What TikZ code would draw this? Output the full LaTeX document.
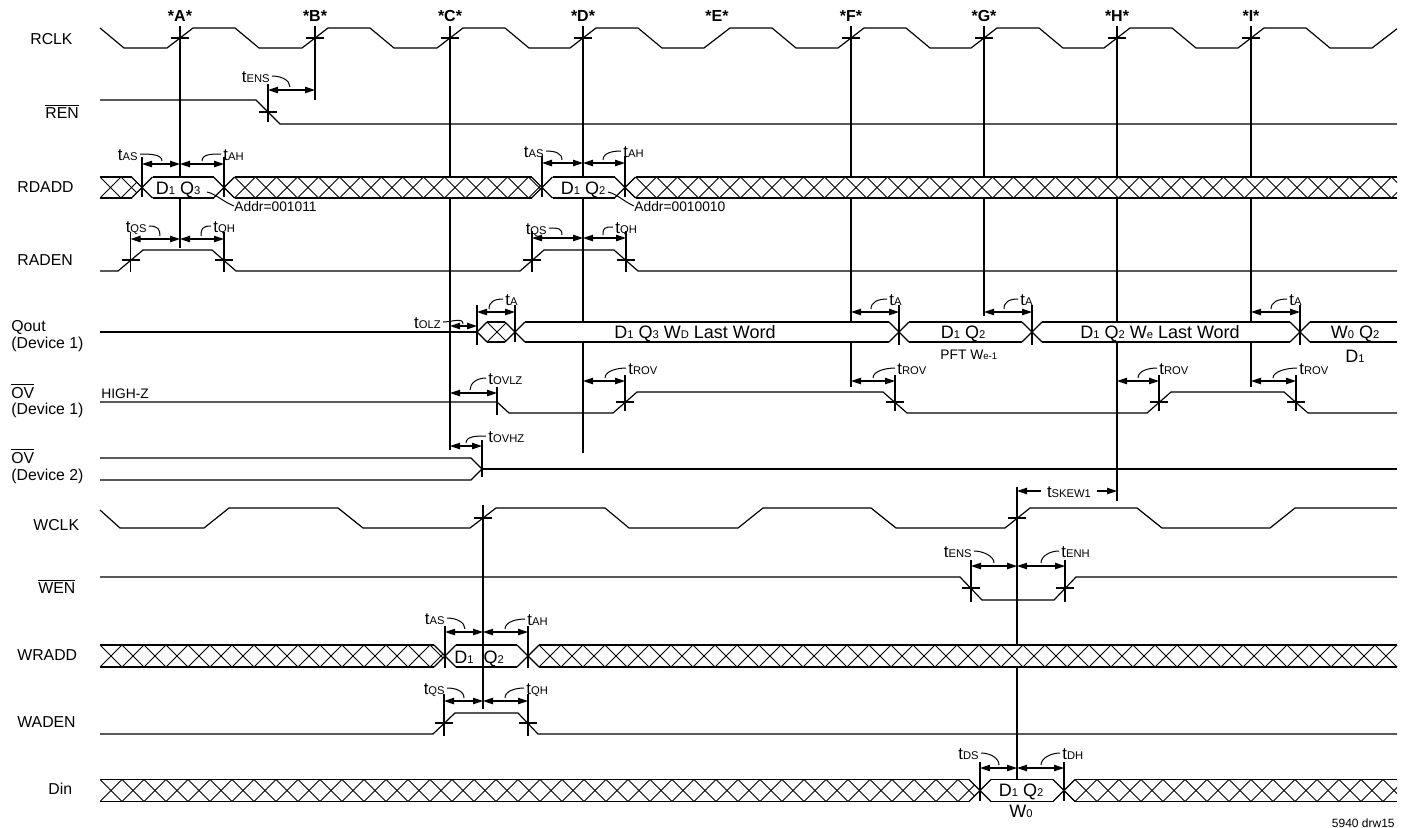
\documentclass[tikz,border=0pt]{standalone}
\usepackage{fontspec}
\setmainfont{Liberation Sans}
\usetikzlibrary{arrows.meta}
\newcommand\tsb[1]{{\fontsize{5.6}{6}\selectfont #1}}
\newcommand\tlb[1]{t\tsb{#1}}
\newcommand\dsb[1]{{\fontsize{5.6}{6}\selectfont #1}}
\newcommand\ovl[1]{$\overline{\hbox{#1}}$}
\newcommand\busedges[6]{%
  \draw[sig] (#1+#5,#3-#4) -- (#2-#6,#3-#4);
  \draw[sig] (#1+#5,#3+#4) -- (#2-#6,#3+#4);
  \ifdim#5pt>0pt \draw[sig] (#1+#5,#3-#4) -- (#1,#3) -- (#1+#5,#3+#4);\fi
  \ifdim#6pt>0pt \draw[sig] (#2-#6,#3-#4) -- (#2,#3) -- (#2-#6,#3+#4);\fi}
\newcommand\dbox[6]{%
  \fill[white] (#1,#3) -- (#1+#5,#3-#4) -- (#2-#6,#3-#4) -- (#2,#3) -- (#2-#6,#3+#4) -- (#1+#5,#3+#4) -- cycle;
  \busedges{#1}{#2}{#3}{#4}{#5}{#6}}
\newcommand\hbus[6]{%
  \begin{scope}
    \clip (#1,#3) -- (#1+#5,#3-#4) -- (#2-#6,#3-#4) -- (#2,#3) -- (#2-#6,#3+#4) -- (#1+#5,#3+#4) -- cycle;
    \fill[white] (#1,#3-#4) rectangle (#2,#3+#4);
    \pgfmathsetmacro\hzp{2*#4}%
    \pgfmathsetmacro\hzx{#1-#5}%
    \pgfmathtruncatemacro\hzn{(#2-#1)/\hzp+2}%
    \foreach \k in {0,...,\hzn}{%
      \draw[hat] (\hzx+\k*\hzp,#3-#4) -- (\hzx+\k*\hzp+\hzp,#3+#4);
      \draw[hat] (\hzx+\k*\hzp,#3+#4) -- (\hzx+\k*\hzp+\hzp,#3-#4);}
  \end{scope}
  \busedges{#1}{#2}{#3}{#4}{#5}{#6}}
\newcommand\tar[3]{\draw[tarr] (#1,#3) -- (#2,#3);}
\newcommand\tll[6]{\node[tl,anchor=east] (#1) at (#2,#3) {#4};
  \draw[ld] ([xshift=1pt]#1.east) .. controls +(9,0) and +(0,-7) .. (#5,#6);}
\newcommand\tlr[6]{\node[tl,anchor=west] (#1) at (#2,#3) {#4};
  \draw[ld] ([xshift=-1pt]#1.west) .. controls +(-9,0) and +(0,-7) .. (#5,#6);}
\begin{document}
\begin{tikzpicture}[x=0.5pt,y=-0.5pt,
  sig/.style={line width=0.6pt, line join=miter},
  refl/.style={line width=0.55pt},
  tick/.style={line width=0.55pt},
  hat/.style={line width=0.45pt},
  tarr/.style={line width=0.55pt, arrows={Triangle[length=5pt,width=3.2pt]-Triangle[length=5pt,width=3.2pt]}},
  sarr/.style={line width=0.55pt, arrows={-Triangle[length=5pt,width=3.2pt]}},
  ld/.style={line width=0.5pt},
  lab/.style={font=\fontsize{7.9}{9}\selectfont, inner sep=0pt, text height=5.6pt, text depth=0pt, anchor=west},
  tl/.style={font=\fontsize{8.4}{9}\selectfont, inner sep=0pt, text height=6pt, text depth=0pt},
  dat/.style={font=\fontsize{9}{10}\selectfont, inner sep=0pt, text height=6.4pt, text depth=0pt},
  sm/.style={font=\fontsize{6.9}{8}\selectfont, inner sep=0pt, text height=5pt, text depth=0pt},
  edg/.style={font=\bfseries\fontsize{8}{9}\selectfont, inner sep=0pt, text height=5.7pt, text depth=0pt}]
\fill[white] (0,0) rectangle (1407,827);
\useasboundingbox (0,0) rectangle (1407,827);

% clock edge labels
\foreach \x/\n in {180/A,315/B,450/C,583/D,717/E,851/F,984/G,1117/H,1251/I}
  \node[edg] (e\n) at (\x,16) {*\n*};

% reference lines
\draw[refl] (180,26) -- (180,248);
\draw[refl] (315,26) -- (315,100);
\draw[refl] (450,26) -- (450,450);
\draw[refl] (583,26) -- (583,453);
\draw[refl] (851,26) -- (851,387);
\draw[refl] (984,26) -- (984,316);
\draw[refl] (1117,26) -- (1117,501);
\draw[refl] (1251,26) -- (1251,387);
\draw[refl] (1017,487) -- (1017,780);

% left labels
\node[lab] (lrclk) at (30,39) {RCLK};
\node[lab] (lren) at (45,113) {\ovl{REN}};
\node[lab] (lrdadd) at (17,187) {RDADD};
\node[lab] (lraden) at (17,260) {RADEN};
\node[lab] (lq1) at (11,326) {Qout};
\node[lab] (lq2) at (11,343) {(Device 1)};
\node[lab] (lo1) at (11,393) {\ovl{OV}};
\node[lab] (lo2) at (11,409) {(Device 1)};
\node[lab] (lo3) at (11,458) {\ovl{OV}};
\node[lab] (lo4) at (11,475) {(Device 2)};
\node[lab] (lwclk) at (33,525) {WCLK};
\node[lab] (lwen) at (38,588) {\ovl{WEN}};
\node[lab] (lwradd) at (17,655) {WRADD};
\node[lab] (lwaden) at (17,722) {WADEN};
\node[lab] (ldin) at (48,789) {Din};

% RCLK
\draw[sig] (100,28) -- (124,48) \foreach \r in {180,315,450,583,717,851,984,1117,1251} { -- (\r-13,48) -- (\r+13,28) -- (\r+55,28) -- (\r+79,48) } -- (1372,48) -- (1397,28.8);
\foreach \r in {180,315,450,583,851,984,1117,1251} \draw[tick] (\r-9,38) -- (\r+9,38);

% REN
\draw[sig] (100,100) -- (256,100) -- (280,124) -- (1397,124);

% RDADD
\hbus{100}{142}{187.5}{10.5}{0}{10.5}
\dbox{142}{224}{187.5}{10.5}{10.5}{10.5}
\hbus{224}{542}{187.5}{10.5}{10.5}{10.5}
\dbox{542}{625}{187.5}{10.5}{10.5}{10.5}
\hbus{625}{1397}{187.5}{10.5}{10.5}{0}
\node[dat] (d1) at (178,188) {D\dsb{1} Q\dsb{3}};
\node[dat] (d2) at (583,188) {D\dsb{1} Q\dsb{2}};
\node[sm,anchor=west] (ad1) at (234,206) {Addr=001011};
\draw[ld] (207,192) .. controls (216,194) and (222,201) .. (ad1.west);
\node[sm,anchor=west] (ad2) at (634,206) {Addr=0010010};
\draw[ld] (608,192) .. controls (617,194) and (623,201) .. (ad2.west);

% RADEN
\draw[sig] (100,271) -- (118,271) -- (143,250) -- (212,250) -- (236,271) -- (520,271) -- (544,250) -- (614,250) -- (638,271) -- (1397,271);

% Qout
\draw[sig] (100,332) -- (477,332);
\hbus{477}{515}{332}{10}{10}{10}
\dbox{515}{899}{332}{10}{10}{10}
\dbox{899}{1032}{332}{10}{10}{10}
\dbox{1032}{1300}{332}{10}{10}{10}
\dbox{1300}{1397}{332}{10}{10}{0}
\node[dat] (d3) at (695,332) {D\dsb{1} Q\dsb{3} W\dsb{D} Last Word};
\node[dat] (d4) at (963,332) {D\dsb{1} Q\dsb{2}};
\node[sm,anchor=west] (pft) at (940,354) {PFT W{\fontsize{4.8}{5}\selectfont e-1}};
\node[dat] (d5) at (1160,332) {D\dsb{1} Q\dsb{2} W\dsb{e} Last Word};
\node[dat] (d6) at (1355,332) {W\dsb{0} Q\dsb{2}};
\node[dat] (d7) at (1355,356) {D\dsb{1}};

% OV device 1
\node[sm,anchor=west] (hz) at (101,393) {HIGH-Z};
\draw[sig] (100,402) -- (497,402) -- (509,413) -- (613,413) -- (637,392) -- (883,392) -- (907,413) -- (1147,413) -- (1171,392) -- (1284,392) -- (1308,413) -- (1397,413);

% OV device 2
\draw[sig] (100,458) -- (471,458) -- (482,469) -- (471,480) -- (100,480);
\draw[sig] (482,469) -- (1397,469);

% WCLK
\draw[sig] (100,510) -- (120,528) -- (204,528) -- (229,508) -- (338,508) -- (363,528) -- (470,528) -- (496,508) -- (605,508) -- (629,528) -- (738,528) -- (763,508) -- (871,508) -- (896,528) -- (1005,528) -- (1030,508) -- (1137,508) -- (1162,528) -- (1270,528) -- (1295,508) -- (1397,508);

% WEN
\draw[sig] (100,577) -- (960,577) -- (982,600) -- (1054,600) -- (1076,577) -- (1397,577);

% WRADD
\hbus{100}{445}{656}{11}{0}{11}
\dbox{445}{528}{656}{11}{11}{11}
\hbus{528}{1397}{656}{11}{11}{0}

% WADEN
\draw[sig] (100,734) -- (433,734) -- (455,713) -- (518,713) -- (538,734) -- (1397,734);

% Din
\hbus{100}{980}{790.5}{11}{0}{11}
\dbox{980}{1064}{790.5}{11}{11}{11}
\hbus{1064}{1397}{790.5}{11}{11}{0}
\node[dat] (d9) at (1021,790) {D\dsb{1} Q\dsb{2}};
\node[dat] (d10) at (1021,811) {W\dsb{0}};

% WCLK reference line (over WRADD box)
\draw[refl] (483,505) -- (483,709);
\node[dat] (d8) at (479,657) {D\dsb{1}\hspace{2.5pt} Q\dsb{2}};

% ticks
\foreach \x/\a/\b in {268/84/122, 142/157/197, 224/157/197, 542/156/197, 625/156/197, 130.5/232/272, 224/232/272, 532/231/272, 626/231/272, 477/305/345, 515/305/342, 899/305/345, 1032/305/345, 1300/305/345, 497/387/415, 625/375/411, 895/375/411, 1159/375/411, 1296/375/411, 482/440/477, 971/560/602, 1065/560/602, 445/626/668, 528/626/668, 444/694/736, 528/694/736, 980/762/801, 1064/762/801}
  \draw[tick] (\x,\a) -- (\x,\b);
% cross marks
\foreach \x/\y in {268/112, 130.5/260, 224/260, 532/260, 626/260, 625/402, 895/402, 1159/402, 1296/402, 483/518, 1017/518, 971/588, 1065/588, 444/723, 528/723}
  \draw[tick] (\x-9,\y) -- (\x+9,\y);

% timing arrows
\tar{268}{315}{90}
\tar{142}{180}{164} \tar{180}{224}{164}
\tar{542}{583}{163} \tar{583}{625}{163}
\tar{130.5}{180}{239} \tar{180}{224}{239}
\tar{532}{583}{238} \tar{583}{626}{238}
\tar{450}{477}{326}
\tar{477}{515}{312} \tar{851}{899}{312} \tar{984}{1032}{312} \tar{1251}{1300}{312}
\tar{450}{497}{393}
\tar{583}{625}{381} \tar{851}{895}{381} \tar{1117}{1159}{381} \tar{1251}{1296}{381}
\tar{450}{482}{446}
\tar{971}{1017}{566} \tar{1017}{1065}{566}
\tar{445}{483}{632} \tar{483}{528}{632}
\tar{444}{483}{701} \tar{483}{528}{701}
\tar{980}{1017}{768} \tar{1017}{1064}{768}

% timing labels
\tll{ens1}{270}{76}{\tlb{ENS}}{290}{87}
\tll{as1}{138}{154}{\tlb{AS}}{162}{161}
\tlr{ah1}{223}{154}{\tlb{AH}}{202}{161}
\tll{as2}{544}{151}{\tlb{AS}}{562}{160}
\tlr{ah2}{623}{151}{\tlb{AH}}{603}{160}
\tll{qs1}{147}{226}{\tlb{QS}}{160}{236}
\tlr{qh1}{213}{226}{\tlb{QH}}{201}{236}
\tll{qs2}{547}{228}{\tlb{QS}}{562}{235}
\tlr{qh2}{615}{227}{\tlb{QH}}{603}{235}
\tll{olz}{441}{322}{\tlb{OLZ}}{463}{324}
\tlr{ta1}{505}{299}{\tlb{A}}{489}{309}
\tlr{ta2}{889}{299}{\tlb{A}}{871}{309}
\tlr{ta3}{1020}{299}{\tlb{A}}{1004}{309}
\tlr{ta4}{1289}{299}{\tlb{A}}{1271}{309}
\tlr{ovlz}{488}{378}{\tlb{OVLZ}}{470}{390}
\tlr{rov1}{628}{368}{\tlb{ROV}}{605}{378}
\tlr{rov2}{897}{368}{\tlb{ROV}}{873}{378}
\tlr{rov3}{1159}{368}{\tlb{ROV}}{1138}{378}
\tlr{rov4}{1299}{368}{\tlb{ROV}}{1273}{378}
\tlr{ovhz}{488}{436}{\tlb{OVHZ}}{466}{443}
\tll{ens2}{972}{551}{\tlb{ENS}}{994}{563}
\tlr{enh}{1061}{551}{\tlb{ENH}}{1041}{563}
\tll{as3}{445}{618}{\tlb{AS}}{465}{629}
\tlr{ah3}{527}{619}{\tlb{AH}}{505}{629}
\tll{qs3}{445}{688}{\tlb{QS}}{464}{698}
\tlr{qh3}{526}{688}{\tlb{QH}}{505}{698}
\tll{ds}{979}{753}{\tlb{DS}}{999}{765}
\tlr{dh}{1062}{753}{\tlb{DH}}{1041}{765}

% tSKEW1
\node[tl] (skew) at (1069,491) {\tlb{SKEW1}};
\draw[sarr] (1041,491) -- (1017,491);
\draw[sarr] (1097,491) -- (1117,491);

\node[font=\fontsize{6}{7}\selectfont, inner sep=0pt, text height=4.3pt, text depth=0pt, anchor=east] (drw) at (1395,823) {5940 drw15};
\end{tikzpicture}
\end{document}
